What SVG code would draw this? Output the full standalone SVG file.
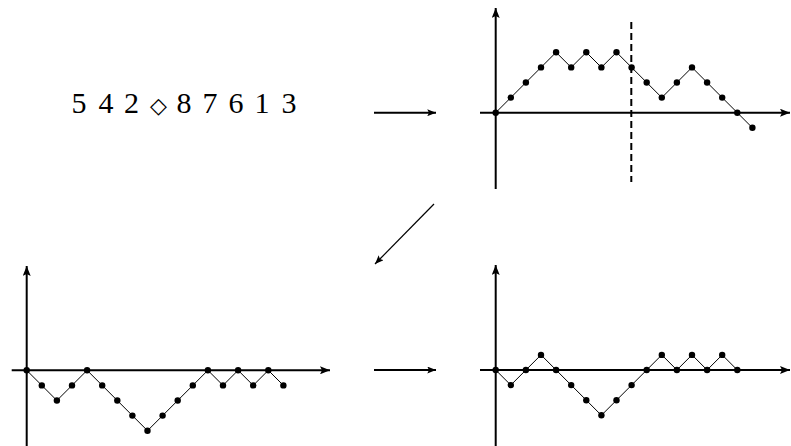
<svg xmlns="http://www.w3.org/2000/svg" width="791" height="446" viewBox="0 0 791 446">
<style>
.axis{stroke:#000;stroke-width:2;fill:none}
.walk{stroke:#000;stroke-width:1;fill:none}
.dot{fill:#000}
.conn{stroke:#000;fill:none}
.lbl{font-family:"Liberation Serif","DejaVu Serif",serif;font-size:30px;fill:#000}
.sym{font-family:"DejaVu Sans",sans-serif;font-size:22px;fill:#000}
</style>
<defs>
<marker id="ah" markerUnits="userSpaceOnUse" viewBox="0 0 10 8" refX="10" refY="4" markerWidth="10" markerHeight="8" orient="auto">
<path d="M0,0 L10,4 L0,8 L2,4 Z" fill="#000"/>
</marker>
<marker id="ahs" markerUnits="userSpaceOnUse" viewBox="0 0 10 8" refX="10" refY="4" markerWidth="9" markerHeight="7" orient="auto">
<path d="M0,0 L10,4 L0,8 L2,4 Z" fill="#000"/>
</marker>
</defs>
<rect width="791" height="446" fill="#fff"/>

<g id="word">
<text class="lbl" y="112.5" text-anchor="middle"><tspan x="79">5</tspan><tspan x="106">4</tspan><tspan x="131.5">2</tspan><tspan x="158.5" class="sym">◇</tspan><tspan x="184">8</tspan><tspan x="210">7</tspan><tspan x="236">6</tspan><tspan x="262">1</tspan><tspan x="289">3</tspan></text>
</g>

<g id="plot-top">
<line class="axis" x1="480" y1="112.7" x2="790" y2="112.7" marker-end="url(#ah)"/>
<line class="axis" x1="495.7" y1="189" x2="495.7" y2="8" marker-end="url(#ah)"/>
<line x1="631.3" y1="22" x2="631.3" y2="182" stroke="#000" stroke-width="2" stroke-dasharray="7,4"/>
<polyline class="walk" points="495.7,112.7 510.8,97.6 525.9,82.5 541,67.4 556.1,52.3 571.2,67.4 586.3,52.3 601.4,67.4 616.5,52.3 631.6,67.4 646.7,82.5 661.8,97.6 676.9,82.5 692,67.4 707.1,82.5 722.2,97.6 737.3,112.7 752.4,127.8"/>
<g class="dot">
<circle cx="495.7" cy="112.7" r="3.2"/><circle cx="510.8" cy="97.6" r="3.2"/><circle cx="525.9" cy="82.5" r="3.2"/><circle cx="541" cy="67.4" r="3.2"/><circle cx="556.1" cy="52.3" r="3.2"/><circle cx="571.2" cy="67.4" r="3.2"/><circle cx="586.3" cy="52.3" r="3.2"/><circle cx="601.4" cy="67.4" r="3.2"/><circle cx="616.5" cy="52.3" r="3.2"/><circle cx="631.6" cy="67.4" r="3.2"/><circle cx="646.7" cy="82.5" r="3.2"/><circle cx="661.8" cy="97.6" r="3.2"/><circle cx="676.9" cy="82.5" r="3.2"/><circle cx="692" cy="67.4" r="3.2"/><circle cx="707.1" cy="82.5" r="3.2"/><circle cx="722.2" cy="97.6" r="3.2"/><circle cx="737.3" cy="112.7" r="3.2"/><circle cx="752.4" cy="127.8" r="3.2"/>
</g>
</g>

<g id="plot-bottom-left">
<line class="axis" x1="11.7" y1="370.3" x2="330" y2="370.3" marker-end="url(#ah)"/>
<line class="axis" x1="26.7" y1="446" x2="26.7" y2="266" marker-end="url(#ah)"/>
<polyline class="walk" points="26.7,370.3 41.8,385.4 56.9,400.5 72,385.4 87.1,370.3 102.2,385.4 117.3,400.5 132.4,415.6 147.5,430.7 162.6,415.6 177.7,400.5 192.8,385.4 207.9,370.3 223,385.4 238.1,370.3 253.2,385.4 268.3,370.3 283.4,385.4"/>
<g class="dot">
<circle cx="26.7" cy="370.3" r="3.2"/><circle cx="41.8" cy="385.4" r="3.2"/><circle cx="56.9" cy="400.5" r="3.2"/><circle cx="72" cy="385.4" r="3.2"/><circle cx="87.1" cy="370.3" r="3.2"/><circle cx="102.2" cy="385.4" r="3.2"/><circle cx="117.3" cy="400.5" r="3.2"/><circle cx="132.4" cy="415.6" r="3.2"/><circle cx="147.5" cy="430.7" r="3.2"/><circle cx="162.6" cy="415.6" r="3.2"/><circle cx="177.7" cy="400.5" r="3.2"/><circle cx="192.8" cy="385.4" r="3.2"/><circle cx="207.9" cy="370.3" r="3.2"/><circle cx="223" cy="385.4" r="3.2"/><circle cx="238.1" cy="370.3" r="3.2"/><circle cx="253.2" cy="385.4" r="3.2"/><circle cx="268.3" cy="370.3" r="3.2"/><circle cx="283.4" cy="385.4" r="3.2"/>
</g>
</g>

<g id="plot-bottom-right">
<line class="axis" x1="480" y1="370" x2="790" y2="370" marker-end="url(#ah)"/>
<line class="axis" x1="495.7" y1="446" x2="495.7" y2="265" marker-end="url(#ah)"/>
<polyline class="walk" points="495.7,370 510.8,385.1 525.9,370 541,354.9 556.1,370 571.2,385.1 586.3,400.2 601.4,415.3 616.5,400.2 631.6,385.1 646.7,370 661.8,354.9 676.9,370 692,354.9 707.1,370 722.2,354.9 737.3,370"/>
<g class="dot">
<circle cx="495.7" cy="370" r="3.2"/><circle cx="510.8" cy="385.1" r="3.2"/><circle cx="525.9" cy="370" r="3.2"/><circle cx="541" cy="354.9" r="3.2"/><circle cx="556.1" cy="370" r="3.2"/><circle cx="571.2" cy="385.1" r="3.2"/><circle cx="586.3" cy="400.2" r="3.2"/><circle cx="601.4" cy="415.3" r="3.2"/><circle cx="616.5" cy="400.2" r="3.2"/><circle cx="631.6" cy="385.1" r="3.2"/><circle cx="646.7" cy="370" r="3.2"/><circle cx="661.8" cy="354.9" r="3.2"/><circle cx="676.9" cy="370" r="3.2"/><circle cx="692" cy="354.9" r="3.2"/><circle cx="707.1" cy="370" r="3.2"/><circle cx="722.2" cy="354.9" r="3.2"/><circle cx="737.3" cy="370" r="3.2"/>
</g>
</g>

<g id="connectors">
<line class="conn" stroke-width="2" x1="374" y1="112.7" x2="436" y2="112.7" marker-end="url(#ahs)"/>
<line class="conn" stroke-width="1.2" x1="434" y1="204" x2="375" y2="264" marker-end="url(#ahs)"/>
<line class="conn" stroke-width="2" x1="374" y1="370" x2="436" y2="370" marker-end="url(#ahs)"/>
</g>
</svg>
